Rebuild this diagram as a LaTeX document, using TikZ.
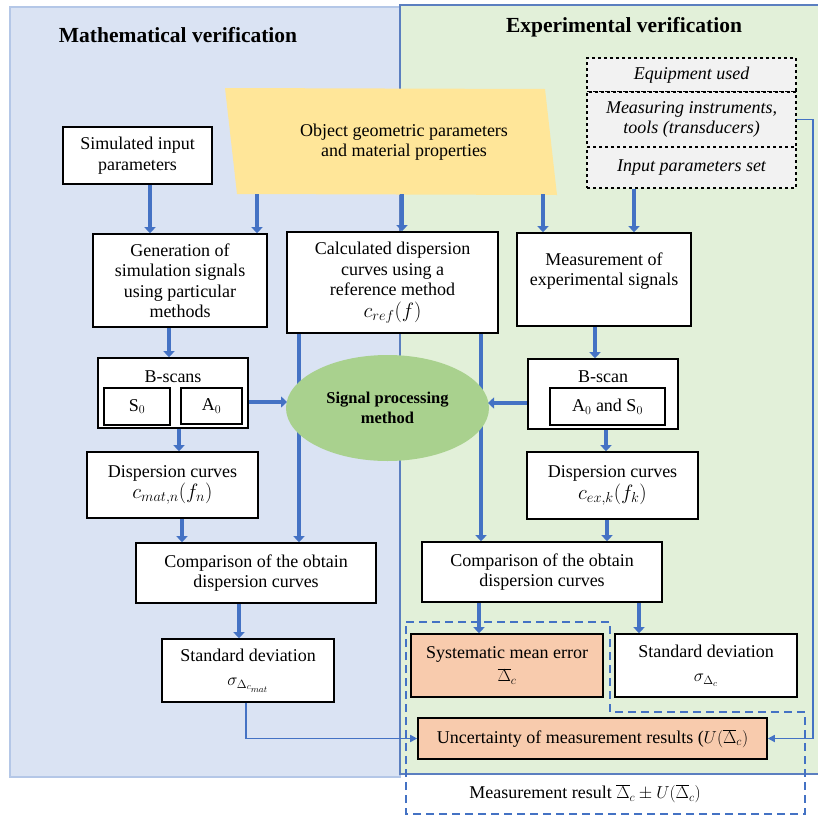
\documentclass[tikz,border=0pt]{standalone}
\usepackage{fontspec}
\setmainfont{Liberation Serif}
\usetikzlibrary{shapes.geometric,arrows.meta}
\definecolor{bluefill}{HTML}{DAE3F3}
\definecolor{blueedge}{HTML}{B4C7E7}
\definecolor{greenfill}{HTML}{E2F0D9}
\definecolor{greenedge}{HTML}{5B7FC0}
\definecolor{yellowc}{HTML}{FFE699}
\definecolor{grayc}{HTML}{F2F2F2}
\definecolor{orangec}{HTML}{F8CBAD}
\definecolor{ellgreen}{HTML}{A9D18E}
\definecolor{arrowblue}{HTML}{4472C4}
\newcommand\fsbody{\fontsize{18}{20.5}\selectfont}
\newcommand\fsmath{\fontsize{20}{22}\selectfont}
\newcommand\fstitle{\fontsize{21.5}{24}\selectfont\bfseries}
\begin{document}
\begin{tikzpicture}[x=1pt,y=-1pt,
  box/.style={draw, line width=1.6pt, fill=white, align=center, inner sep=1pt, font=\fsbody},
  dbox/.style={draw, dashed, line width=1.2pt, fill=grayc, align=center, inner sep=1pt, font=\fsbody\itshape},
  txt/.style={align=center, inner sep=0pt, font=\fsbody},
  bigarrow/.style={draw=arrowblue, line width=4.5pt, -{Triangle[width=11pt,length=6pt]}},
  thinarrow/.style={draw=arrowblue, line width=1.6pt, -{Triangle[width=7pt,length=7pt]}},
  dashblue/.style={draw=arrowblue, line width=1.8pt, dash pattern=on 8pt off 5pt}
]
\useasboundingbox (0,0) rectangle (818,819);
% panels
\draw[blueedge, fill=bluefill, line width=1.5pt] (10,7) rectangle (400,777);
\draw[greenedge, fill=greenfill, line width=1.3pt] (400,5) rectangle (822,774);
\node[font=\fstitle] (titleL) at (178,35) {Mathematical verification};
\node[font=\fstitle] (titleR) at (624,27) {Experimental verification};
% trapezoid
\fill[yellowc] (225,88) -- (545,89) -- (557,195) -- (237,194) -- cycle;
\node[txt] (obj) at (404,142) {Object geometric parameters\\and material properties};
\coordinate (trb) at (400,194);
% boxes
\node[box, minimum width=149, minimum height=57] (sim) at (137.5,155.5) {Simulated input\\parameters};
\node[box, minimum width=174, minimum height=93] (gen) at (180,280.5) {Generation of\\simulation signals\\using particular\\methods};
\node[box, minimum width=211, minimum height=101] (calc) at (392.5,282.5) {Calculated dispersion\\curves using a\\reference method\\[1pt]{\fsmath$c_{ref}(f)$}};
\node[box, minimum width=174, minimum height=93] (meas) at (604,279.5) {};
\node[txt] (meastxt) at (604,271) {Measurement of\\experimental signals};
\node[dbox, minimum width=209, minimum height=34] (equip) at (691.5,75) {Equipment used};
\node[dbox, minimum width=209, minimum height=55] (instr) at (691.5,119.5) {Measuring instruments,\\tools (transducers)};
\node[dbox, minimum width=209, minimum height=41] (inset) at (691.5,167.5) {Input parameters set};
\node[box, minimum width=150, minimum height=70] (bscL) at (173,393) {};
\node[txt] (bscLt) at (173,377) {B-scans};
\node[box, minimum width=66, minimum height=37] (s0) at (137,406.5) {S$_0$};
\node[box, minimum width=61, minimum height=36] (a0) at (211.5,406) {A$_0$};
\node[box, minimum width=150, minimum height=70] (bscR) at (603,394) {};
\node[txt] (bscRt) at (603,377) {B-scan};
\node[box, minimum width=115, minimum height=37] (a0s0) at (607.5,406.5) {A$_0$ and S$_0$};
\node[box, minimum width=171, minimum height=66] (dispL) at (172.5,485) {Dispersion curves\\[1pt]{\fsmath$c_{mat,n}(f_n)$}};
\node[box, minimum width=171, minimum height=67] (dispR) at (612.5,485.5) {Dispersion curves\\[1pt]{\fsmath$c_{ex,k}(f_k)$}};
\node[box, minimum width=240, minimum height=60] (compL) at (256,573) {Comparison of the obtain\\dispersion curves};
\node[box, minimum width=240, minimum height=60] (compR) at (542,572) {Comparison of the obtain\\dispersion curves};
\node[box, minimum width=172, minimum height=63] (stdL) at (248,670.5) {Standard deviation\\[4pt]$\sigma_{\Delta_{c_{mat}}}$};
\node[box, fill=orangec, minimum width=192, minimum height=63] (sme) at (507,665.5) {Systematic mean error\\[3pt]$\overline{\Delta}_c$};
\node[box, minimum width=182, minimum height=63] (stdR) at (706,665.5) {Standard deviation\\[4pt]$\sigma_{\Delta_c}$};
\node[box, fill=orangec, minimum width=349, minimum height=41] (unc) at (592.5,738.5) {Uncertainty of measurement results ($U(\overline{\Delta}_c)$};
\node[txt] (mres) at (585,794) {Measurement result $\overline{\Delta}_c \pm U(\overline{\Delta}_c)$};
% big arrows
\draw[bigarrow] (150,0 |- sim.south) -- (150,0 |- gen.north);
\draw[bigarrow] (257,0 |- trb) -- (257,0 |- gen.north);
\draw[bigarrow] (402,0 |- trb) -- (402,0 |- calc.north);
\draw[bigarrow] (543,0 |- trb) -- (543,0 |- meas.north);
\draw[bigarrow] (634,0 |- inset.south) -- (634,0 |- meas.north);
\draw[bigarrow] (169,0 |- gen.south) -- (169,0 |- bscL.north);
\draw[bigarrow] (179,0 |- bscL.south) -- (179,0 |- dispL.north);
\draw[bigarrow] (182,0 |- dispL.south) -- (182,0 |- compL.north);
\draw[bigarrow] (299,0 |- calc.south) -- (299,0 |- compL.north);
\draw[bigarrow] (481,0 |- calc.south) -- (481,0 |- compR.north);
\draw[bigarrow] (595,0 |- meas.south) -- (595,0 |- bscR.north);
\draw[bigarrow] (606,0 |- bscR.south) -- (606,0 |- dispR.north);
\draw[bigarrow] (607,0 |- dispR.south) -- (607,0 |- compR.north);
\draw[bigarrow] (239,0 |- compL.south) -- (239,0 |- stdL.north);
\draw[bigarrow] (479,0 |- compR.south) -- (479,0 |- sme.north);
\draw[bigarrow] (639,0 |- compR.south) -- (639,0 |- stdR.north);
% ellipse
\node[ellipse, fill=ellgreen, minimum width=203, minimum height=106, inner sep=0pt, align=center, font=\fontsize{16.5}{19.5}\selectfont\bfseries] (spm) at (387.5,408) {Signal processing\\method};
\draw[bigarrow] (bscL.east |- 0,402) -- (287,402);
\draw[bigarrow] (bscR.west |- 0,403) -- (488,403);
% thin connectors
\draw[thinarrow] (instr.east) -- (instr.east -| 813,0) |- (unc.east);
\draw[thinarrow] (246,0 |- stdL.south) |- (unc.west);
% dashed group
\draw[dashblue] (406,622) -- (610,622) -- (610,712) -- (805,712) -- (805,814) -- (406,814) -- cycle;
\end{tikzpicture}
\end{document}
